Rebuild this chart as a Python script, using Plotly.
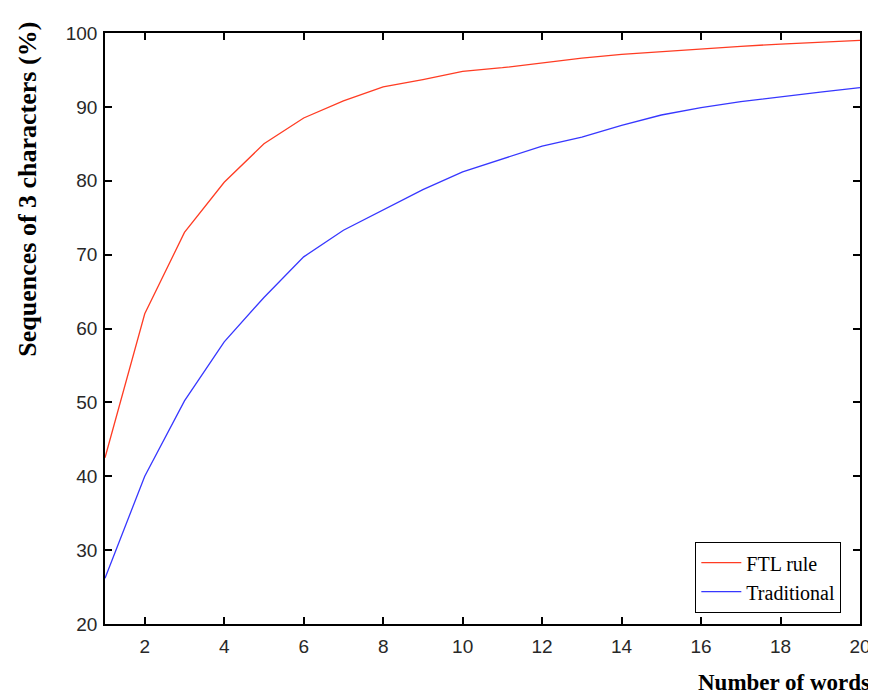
import plotly.graph_objects as go

words = list(range(1, 21))
ftl_rule = [42.5, 62.0, 73.0, 79.8, 85.0, 88.5, 90.8, 92.7, 93.7, 94.8,
            95.3, 96.0, 96.6, 97.1, 97.5, 97.8, 98.2, 98.5, 98.8, 99.0]
traditional = [26.2, 40.0, 50.2, 58.2, 64.2, 69.7, 73.3, 76.1, 78.8, 81.2,
               82.9, 84.7, 85.9, 87.5, 88.9, 89.9, 90.7, 91.4, 92.0, 92.6]

x_ticks = list(range(2, 21, 2))
y_ticks = list(range(20, 101, 10))

fig = go.Figure()
fig.add_trace(go.Scatter(x=words, y=ftl_rule, mode="lines", name="FTL rule",
                         line=dict(color="rgb(255,60,35)", width=1.3)))
fig.add_trace(go.Scatter(x=words, y=traditional, mode="lines", name="Traditional",
                         line=dict(color="rgb(55,55,255)", width=1.3)))

axis_style = dict(
    showgrid=False, zeroline=False, showline=True, linecolor="black", linewidth=1.5,
    mirror="ticks", ticks="inside", ticklen=7, tickwidth=1.5, tickcolor="black",
    tickfont=dict(family="Liberation Sans", size=19, color="rgb(40,40,40)"),
    automargin=False,
)
fig.update_xaxes(range=[1, 20], tickvals=x_ticks, ticklabelstandoff=4, **axis_style)
fig.update_yaxes(range=[20, 100], tickvals=y_ticks, ticklabelstandoff=2, **axis_style)

# page has an 8px body margin, so the figure is 8px smaller than the window
fig.add_annotation(text="Number of words", xref="paper", yref="paper", x=1.016, y=-0.075,
                   xanchor="right", yanchor="top", showarrow=False,
                   font=dict(family="Liberation Serif", size=23, color="black", weight="bold"))
fig.add_annotation(text="Sequences of 3 characters (%)", xref="paper", yref="paper",
                   x=-0.103, y=1.022, xanchor="center", yanchor="top", textangle=-90,
                   showarrow=False,
                   font=dict(family="Liberation Serif", size=26, color="black", weight="bold"))

fig.update_layout(
    width=868, height=686,
    margin=dict(l=97, r=16, t=25, b=70),
    plot_bgcolor="white", paper_bgcolor="white",
    showlegend=True,
    legend=dict(x=0.975, y=0.0186, xanchor="right", yanchor="bottom",
                bordercolor="black", borderwidth=1.2, bgcolor="white",
                font=dict(family="Liberation Serif", size=20, color="black"),
                tracegroupgap=0, itemwidth=40, entrywidth=170),
)

fig.write_html("out.html")
